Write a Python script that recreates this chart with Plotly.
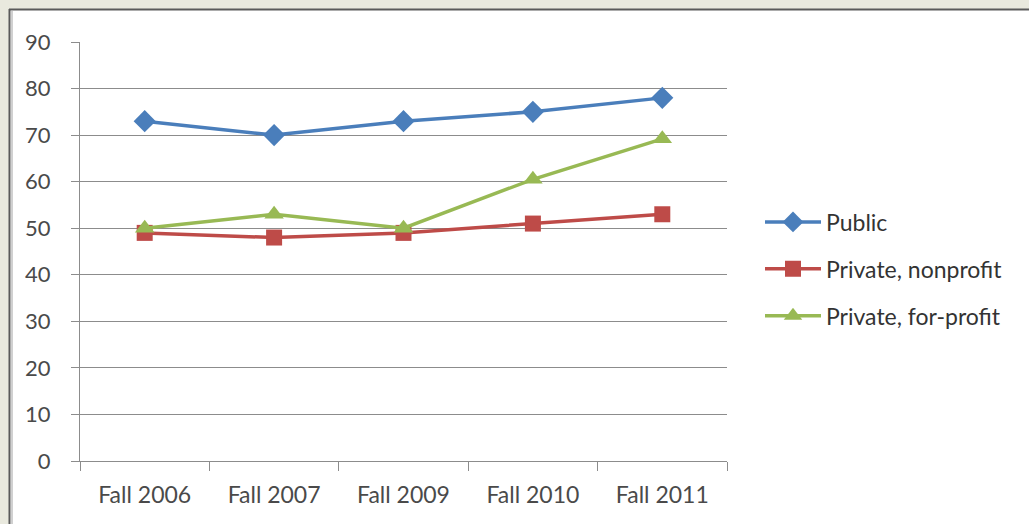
import plotly.graph_objects as go

categories = ["Fall 2006", "Fall 2007", "Fall 2009", "Fall 2010", "Fall 2011"]
public = [73, 70, 73, 75, 78]
private_nonprofit = [49, 48, 49, 51, 53]
private_forprofit = [50, 53, 50, 60.5, 69.2]
y_ticks = [0, 10, 20, 30, 40, 50, 60, 70, 80, 90]

W, H = 1029, 524
L, R, T, B = 80, 302, 42, 63
pw, ph = W - L - R, H - T - B

def px(x):
    return (x - L) / pw

def py(y):
    return (H - B - y) / ph

FONT = "Lato, Open Sans, sans-serif"
TXT = "#4a4a4a"

fig = go.Figure()
series = [
    ("Public", public, "#4a7ebb", "diamond", 17),
    ("Private, nonprofit", private_nonprofit, "#be4b48", "square", 16),
    ("Private, for-profit", private_forprofit, "#98b954", "triangle-up", 17),
]
for name, vals, color, sym, size in series:
    fig.add_trace(go.Scatter(
        x=categories, y=vals, name=name, mode="lines+markers",
        line=dict(color=color, width=3.5),
        marker=dict(symbol=sym, size=size, color=color),
        legendgroup=name,
    ))

shapes = [
    dict(type="rect", xref="paper", yref="paper", x0=px(9), x1=px(W + 20), y0=py(H + 20), y1=py(9),
         fillcolor="white", line=dict(width=0), layer="below"),
    dict(type="line", xref="paper", yref="paper", x0=px(9.5), x1=px(9.5), y0=py(H + 20), y1=py(9),
         line=dict(color="#5a5a5a", width=2), layer="below"),
    dict(type="line", xref="paper", yref="paper", x0=px(9), x1=px(W + 20), y0=py(9.5), y1=py(9.5),
         line=dict(color="#5a5a5a", width=2), layer="below"),
    dict(type="line", xref="paper", yref="paper", x0=px(12), x1=px(12), y0=py(H + 20), y1=py(11),
         line=dict(color="#d0d0d0", width=2), layer="below"),
]

fig.update_layout(
    width=W, height=H,
    margin=dict(l=L, r=R, t=T, b=B),
    paper_bgcolor="#e9e9de",
    plot_bgcolor="white",
    shapes=shapes,
    font=dict(family=FONT, color=TXT),
    showlegend=True,
    legend=dict(
        x=px(760), y=py(269), xanchor="left", yanchor="middle",
        font=dict(size=23, family=FONT, color="#333333"),
        tracegroupgap=14, bgcolor="rgba(0,0,0,0)",
        itemwidth=56,
    ),
    xaxis=dict(
        type="category", range=[-0.5, 4.5], tickson="boundaries", ticks="outside", ticklen=9,
        tickcolor="#8c8c8c", showline=True, linecolor="#8c8c8c", linewidth=1,
        showgrid=False, tickfont=dict(size=23, color=TXT),
        ticklabelstandoff=13,
    ),
    yaxis=dict(
        range=[0, 90], tickvals=y_ticks, ticks="outside", ticklen=8,
        tickcolor="#8c8c8c", showline=True, linecolor="#8c8c8c", linewidth=1,
        gridcolor="#8c8c8c", gridwidth=1, zeroline=False,
        tickfont=dict(size=22, color=TXT), ticklabelstandoff=16,
    ),
)

fig.write_html(
    "out.html",
    config={"displayModeBar": False},
    post_script="document.body.style.margin='0';document.body.style.overflow='hidden';",
)
